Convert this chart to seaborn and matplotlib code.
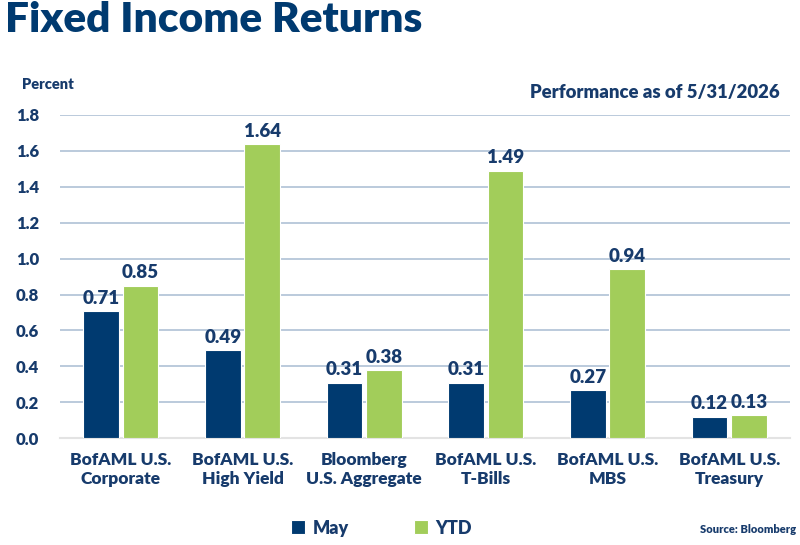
import pandas as pd
import numpy as np
import matplotlib.pyplot as plt
import seaborn as sns

# Chart data
categories = ['BofAML U.S.\nCorporate', 'BofAML U.S.\nHigh Yield', 'Bloomberg\nU.S. Aggregate',
              'BofAML U.S.\nT-Bills', 'BofAML U.S.\nMBS', 'BofAML U.S.\nTreasury']
may = [0.71, 0.49, 0.31, 0.31, 0.27, 0.12]
ytd = [0.85, 1.64, 0.38, 1.49, 0.94, 0.13]
yticks = [0.0, 0.2, 0.4, 0.6, 0.8, 1.0, 1.2, 1.4, 1.6, 1.8]

navy = '#003a70'
green = '#a2cd5a'
text_col = '#173b6c'

df = pd.DataFrame({
    'Index': categories * 2,
    'Period': ['May'] * len(may) + ['YTD'] * len(ytd),
    'Return': may + ytd,
})

sns.set_style('white')
plt.rcParams['font.family'] = ['Lato', 'DejaVu Sans']

fig = plt.figure(figsize=(8, 5.45), dpi=100)
ax = fig.add_axes([0.075, 0.196, 0.9125, 0.593])

sns.barplot(data=df, x='Index', y='Return', hue='Period',
            palette={'May': navy, 'YTD': green}, saturation=1, width=0.65, gap=0.1,
            edgecolor='white', linewidth=0.8, ax=ax, zorder=3)

for c in ax.containers:
    ax.bar_label(c, fmt='%.2f', padding=3, fontsize=13.5, fontweight='heavy', color=text_col)

ax.set_ylim(0, 1.8)
ax.set_xlim(-0.5, 5.5)
ax.set_yticks(yticks)
ax.set_yticklabels([f'{v:.1f}' for v in yticks])
ax.yaxis.grid(True, color='#b5c6d9', linewidth=1.3, zorder=0)
ax.set_axisbelow(True)
for s in ['top', 'right', 'left']:
    ax.spines[s].set_visible(False)
ax.spines['bottom'].set_color('#e3e3e3')
ax.spines['bottom'].set_linewidth(1.5)
ax.tick_params(axis='y', length=0, pad=15, labelsize=12, labelcolor=text_col)
ax.tick_params(axis='x', length=0, pad=10, labelsize=12.5, labelcolor=text_col)
for lab in ax.get_xticklabels() + ax.get_yticklabels():
    lab.set_fontweight('heavy')
ax.set_xlabel('')
ax.set_ylabel('')

ax.legend(loc='lower center', bbox_to_anchor=(0.44, -0.355), ncol=2, frameon=False,
          handlelength=0.8, handleheight=0.8, handletextpad=0.4, columnspacing=3.6,
          prop={'weight': 'heavy', 'size': 13}, labelcolor=text_col)

fig.text(0.006, 0.998, 'Fixed Income Returns', fontsize=30.5, fontweight='heavy',
         color=navy, va='top', ha='left')
fig.text(0.028, 0.845, 'Percent', fontsize=10.5, fontweight='heavy', color=text_col,
         va='center', ha='left')
fig.text(0.975, 0.83, 'Performance as of 5/31/2026', fontsize=13.3, fontweight='heavy',
         color=text_col, va='center', ha='right')
fig.text(0.995, 0.028, 'Source: Bloomberg', fontsize=8, fontweight='heavy',
         color=text_col, va='center', ha='right')

fig.savefig('out.png', dpi=100)
